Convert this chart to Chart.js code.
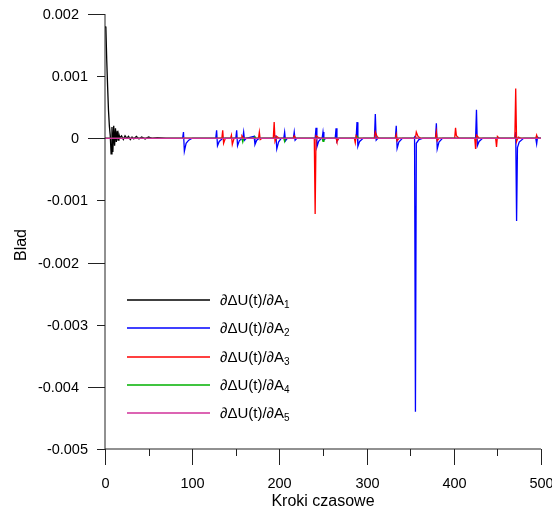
<!DOCTYPE html>
<html>
<head>
<meta charset="utf-8">
<script src="https://cdn.jsdelivr.net/npm/chart.js@4.4.0/dist/chart.umd.min.js"></script>
<style>
html, body { margin: 0; padding: 0; background: #fff; }
</style>
</head>
<body>
<canvas id="ChartBlad" width="552" height="511"></canvas>
<script>
// Dane: pary [krok, blad]
const serA1 = [[0, 0.00180], [1, 0.00178], [2, 0.00125], [3, 0.00083], [4, 0.00045], [5, 0.00020], [6, 0.00005],
    [7, -0.00025], [8, 0.00018], [9, -0.00022], [10, 0.00020], [11, -0.00012], [12, 0.00016], [13, -0.00006],
    [14, 0.00012], [15, -0.00003], [16, 0.00006], [17, 0.00001], [19, 0.00004], [21, -0.00002], [23, 0.00004],
    [25, 0.00000], [27, 0.00003], [29, -0.00002], [31, 0.00002], [33, -0.00001], [36, 0.00003], [39, -0.00001],
    [42, 0.00002], [46, -0.00001], [50, 0.00002], [54, 0], [60, 0.00001], [70, 0], [500, 0]]

const serA2 = [[0, 0], [89, 0], [90, 0.00010], [91, -0.00021], [93, -0.00008], [96, -0.00003], [100, 0],
    [127, 0], [128, 0.00013], [129, -0.00012], [131, -0.00005], [135, 0],
    [150, 0], [151, 0.00013], [152, -0.00012], [154, -0.00004], [157, 0],
    [158, 0], [159, 0.00010], [160, -0.00003], [162, 0],
    [171, 0.00003], [172, -0.00010], [174, -0.00003], [177, 0],
    [195, 0], [196, 0.00005], [197, -0.00017], [199, -0.00006], [202, 0],
    [205, 0], [206, 0.00010], [207, -0.00004], [209, 0],
    [216, 0], [217, 0.00010], [218, -0.00003], [220, 0],
    [241, 0], [242, 0.00017], [243, -0.00014], [245, -0.00005], [248, 0],
    [249, 0], [250, 0.00010], [251, -0.00003], [253, 0],
    [264, 0], [265, 0.00016], [266, -0.00005], [268, 0],
    [288, 0], [289, 0.00026], [290, -0.00013], [292, -0.00005], [296, 0],
    [309, 0], [310, 0.00039], [311, -0.00003], [313, 0],
    [333, 0], [334, 0.00020], [335, -0.00016], [337, -0.00006], [341, 0],
    [354, 0], [355, 0.00002], [356, -0.00440], [357, -0.00008], [360, -0.00002], [364, 0],
    [379, 0], [380, 0.00024], [381, -0.00017], [383, -0.00006], [387, 0],
    [425, 0], [426, 0.00046], [427, -0.00012], [429, -0.00005], [433, 0],
    [470, 0], [471, 0.00010], [472, -0.00133], [473, -0.00015], [475, -0.00006], [480, 0],
    [494, 0], [495, -0.00009], [496, 0.00002], [498, 0], [500, 0]]

const serA3 = [[0, 0], [134, 0], [135, 0.00013], [136, -0.00008], [138, 0],
    [144, 0], [145, 0.00005], [146, -0.00010], [148, 0],
    [156, 0], [157, 0.00004], [159, 0],
    [176, 0], [177, 0.00010], [178, -0.00002], [180, 0],
    [193, 0], [194, 0.00026], [195, -0.00005], [197, 0.00003], [200, 0],
    [216, 0], [217, 0.00004], [219, 0],
    [240, 0], [241, -0.00122], [242, 0.00004], [244, 0.00002], [247, 0],
    [265, 0], [266, -0.00005], [268, 0],
    [286, 0], [287, -0.00007], [288, 0.00004], [290, 0],
    [309, 0], [310, 0.00010], [312, 0.00003], [314, 0],
    [333, 0], [334, 0.00006], [335, -0.00004], [337, 0],
    [356, 0], [357, 0.00010], [359, 0.00003], [362, 0],
    [379, 0], [380, 0.00010], [381, -0.00004], [383, 0],
    [401, 0], [402, 0.00017], [403, 0.00004], [406, 0],
    [424, 0], [425, -0.00017], [426, 0.00005], [429, 0],
    [448, 0], [449, -0.00014], [450, 0.00003], [452, 0],
    [470, 0], [471, 0.00080], [472, -0.00005], [474, 0.00002], [477, 0],
    [494, 0], [495, 0.00005], [496, 0], [500, 0]]

const serA4 = [[0, 0], [157, 0], [158, -0.00006], [159, 0], [171, 0], [172, 0.00002], [173, 0],
    [205, 0], [206, -0.00005], [207, 0], [249, 0], [250, -0.00005], [251, 0],
    [289, 0], [290, 0.00002], [291, 0], [500, 0]]

const serA5 = [[0, 0], [90, 0], [91, 0.00001], [92, 0], [242, 0], [243, -0.00001], [244, 0],
    [356, 0], [357, 0.00001], [358, 0], [500, 0]]

const kolory = ['#000000', '#0000ff', '#ff0000', '#00b000', '#d0309a']
const legendaTekst = '∂ΔU(t)/∂A'
const legendaIndeks = ['1', '2', '3', '4', '5']

const xTicks = [0, 50, 100, 150, 200, 250, 300, 350, 400, 450, 500]
const xLabels = ['0', '100', '200', '300', '400', '500']
const yTicks = [-0.005, -0.004, -0.003, -0.002, -0.001, 0, 0.001, 0.002]
const yLabels = ['-0.005', '-0.004', '-0.003', '-0.002', '-0.001', '0', '0.001', '0.002']

const ChartBlad = document.getElementById('ChartBlad')

const doPunktow = (ser) => ser.map(p => ({ x: p[0], y: p[1] }))

// Rysuje osie, podziałki, opisy i legendę
const osie = {
    id: 'osie',
    afterDraw(chart) {
        const ctx = chart.ctx
        const sx = chart.scales.x
        const sy = chart.scales.y
        const x0 = sx.getPixelForValue(0)
        const yb = sy.getPixelForValue(-0.005)
        ctx.save()
        ctx.strokeStyle = '#222'
        ctx.lineWidth = 1
        ctx.beginPath()
        ctx.moveTo(x0, sy.getPixelForValue(0.002))
        ctx.lineTo(x0, yb)
        ctx.lineTo(sx.getPixelForValue(500), yb)
        ctx.stroke()

        ctx.fillStyle = '#000'
        ctx.font = '14.5px "Liberation Sans", Arial, sans-serif'

        // podziałki osi Y
        ctx.textAlign = 'right'
        ctx.textBaseline = 'middle'
        yTicks.forEach((v, i) => {
            const py = Math.round(sy.getPixelForValue(v)) + 0.5
            const major = Math.round(v * 1000) % 2 === 0
            const len = major ? 17 : 8
            ctx.beginPath()
            ctx.moveTo(x0 - len, py)
            ctx.lineTo(x0, py)
            ctx.stroke()
            ctx.fillText(yLabels[i], x0 - len - 9, py)
        })

        // podziałki osi X
        ctx.textAlign = 'center'
        ctx.textBaseline = 'alphabetic'
        xTicks.forEach(v => {
            const px = Math.round(sx.getPixelForValue(v)) + 0.5
            const major = v % 100 === 0
            ctx.beginPath()
            ctx.moveTo(px, yb)
            ctx.lineTo(px, yb + (major ? 16 : 7))
            ctx.stroke()
            if (major) ctx.fillText(xLabels[v / 100], px, 488)
        })

        // tytuły osi
        ctx.font = '16px "Liberation Sans", Arial, sans-serif'
        ctx.fillText('Kroki czasowe', (x0 + sx.getPixelForValue(500)) / 2, 506)
        ctx.save()
        ctx.translate(26, 245)
        ctx.rotate(-Math.PI / 2)
        ctx.fillText('Blad', 0, 0)
        ctx.restore()

        // legenda
        ctx.textAlign = 'left'
        ctx.textBaseline = 'middle'
        kolory.forEach((kol, i) => {
            const ly = Math.round(300 + i * 28.3)
            ctx.strokeStyle = kol
            ctx.lineWidth = 1.3
            ctx.beginPath()
            ctx.moveTo(127, ly)
            ctx.lineTo(210, ly)
            ctx.stroke()
            ctx.font = '15px "Liberation Sans", Arial, sans-serif'
            ctx.fillText(legendaTekst, 220, ly + 1)
            const w = ctx.measureText(legendaTekst).width
            ctx.font = '10px "Liberation Sans", Arial, sans-serif'
            ctx.fillText(legendaIndeks[i], 220 + w, ly + 5)
        })
        ctx.restore()
    }
}

const serie = [serA1, serA2, serA3, serA4, serA5]

new Chart(ChartBlad, {
    type: 'line',
    data: {
        datasets: serie.map((s, i) => ({
            label: legendaTekst + legendaIndeks[i],
            data: doPunktow(s),
            borderColor: kolory[i],
            borderWidth: 1.3,
            pointRadius: 0,
            tension: 0,
            order: 5 - i
        }))
    },
    options: {
        responsive: false,
        animation: false,
        layout: { padding: { left: 105, right: 11, top: 14, bottom: 62 } },
        plugins: { legend: { display: false }, tooltip: { enabled: false } },
        scales: {
            x: { type: 'linear', min: 0, max: 500, display: false },
            y: { min: -0.005, max: 0.002, display: false }
        }
    },
    plugins: [osie]
})
</script>
</body>
</html>
